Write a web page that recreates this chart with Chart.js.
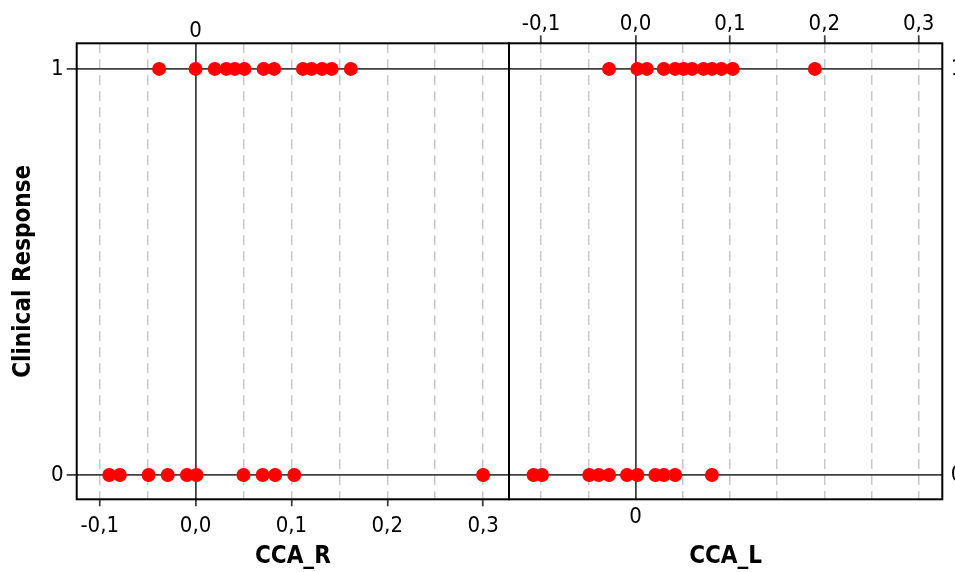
<!DOCTYPE html>
<html><head><meta charset="utf-8">
<script src="https://cdn.jsdelivr.net/npm/chart.js@4.4.0/dist/chart.umd.min.js"></script>
<style>
html,body{margin:0;padding:0;background:#fff;width:955px;height:572px;overflow:hidden;position:relative}
#a{position:absolute;left:0;top:0}
#b{position:absolute;left:500px;top:0}
</style></head><body>
<canvas id="a" width="520" height="572"></canvas>
<canvas id="b" width="455" height="572"></canvas>
<script>
// ---- data ----
const responseTicks = [0, 1];
const responseLabels = ['0', '1'];
const xMajorTicks = [-0.1, 0, 0.1, 0.2, 0.3];
const xMajorLabels = ['-0,1', '0,0', '0,1', '0,2', '0,3'];
const xMinorTicks = [-0.05, 0.05, 0.15, 0.25];
const zeroTick = [0];
const zeroLabel = ['0'];

const ccaR_resp1 = [-0.038, 0.000, 0.020, 0.032, 0.041, 0.051, 0.071, 0.082, 0.112, 0.121, 0.132, 0.142, 0.162];
const ccaR_resp0 = [-0.090, -0.079, -0.049, -0.029, -0.009, 0.001, 0.050, 0.070, 0.083, 0.103, 0.300];
const ccaL_resp1 = [-0.028, 0.002, 0.012, 0.030, 0.042, 0.051, 0.060, 0.072, 0.081, 0.091, 0.103, 0.190];
const ccaL_resp0 = [-0.108, -0.099, -0.049, -0.039, -0.028, -0.009, 0.002, 0.021, 0.030, 0.042, 0.081];

// ---- styling ----
const FONT = "'DejaVu Sans Condensed', 'DejaVu Sans', sans-serif";
const DARK = '#404040';
const LIGHT = '#c8c8c8';
const RED = '#ff0000';
const Y_MIN = -0.06, Y_MAX = 1.063;

const allXTicks = [...xMajorTicks, ...xMinorTicks].sort((a, b) => a - b);
const near = (a, b) => Math.abs(a - b) < 1e-9;
const isZero = c => c.tick && near(c.tick.value, 0);
const isMajor = c => c.tick && xMajorTicks.some(v => near(v, c.tick.value));
const majorLabel = v => { const i = xMajorTicks.findIndex(t => near(t, v)); return i >= 0 ? xMajorLabels[i] : ''; };
const tickFont = { family: FONT, size: 22 };
const titleFont = { family: FONT, size: 24, weight: 'bold' };

const framePlugin = {
  id: 'frame',
  afterDatasetsDraw(chart) {
    const { ctx, chartArea: a } = chart;
    ctx.save();
    ctx.strokeStyle = '#000';
    ctx.lineWidth = 2;
    ctx.strokeRect(a.left, a.top, a.right - a.left, a.bottom - a.top);
    ctx.restore();
  }
};

function pts(xs, y) { return xs.map(x => ({ x, y })); }
function datasets(r1, r0) {
  const base = { pointRadius: 7, pointHoverRadius: 7, pointBackgroundColor: RED, pointBorderWidth: 0, showLine: false };
  return [
    Object.assign({ label: '1', data: pts(r1, 1) }, base),
    Object.assign({ label: '0', data: pts(r0, 0) }, base)
  ];
}

const common = {
  responsive: false,
  animation: false,
  devicePixelRatio: 1,
  plugins: { legend: { display: false }, tooltip: { enabled: false } },
  events: []
};

const dashedGrid = (tickLen) => ({
  color: c => isZero(c) ? DARK : LIGHT,
  lineWidth: c => isZero(c) ? 1.8 : 1.5,
  tickLength: tickLen, tickWidth: 1.8,
  tickColor: c => isMajor(c) ? DARK : 'transparent'
});
const dashedBorder = { display: false, dash: c => isZero(c) ? [] : [10, 6] };

// ---- left panel: CCA_R ----
const RL = { min: -0.124, max: 0.327 };
new Chart(document.getElementById('a'), {
  type: 'scatter',
  data: { datasets: datasets(ccaR_resp1, ccaR_resp0) },
  plugins: [framePlugin],
  options: Object.assign({}, common, {
    layout: { padding: { left: 0, right: 11, top: 0, bottom: 0 } },
    scales: {
      x: {
        type: 'linear', position: 'bottom', min: RL.min, max: RL.max,
        afterBuildTicks: s => { s.ticks = allXTicks.map(v => ({ value: v })); },
        afterFit: s => { s.height = 72.7; },
        ticks: { autoSkip: false, maxRotation: 0, padding: 6.5, color: '#000', font: tickFont, callback: v => majorLabel(v) },
        grid: dashedGrid(7),
        border: dashedBorder,
        title: { display: true, text: 'CCA_R', color: '#000', font: titleFont, padding: { top: 0, bottom: 1 } }
      },
      x2: {
        type: 'linear', position: 'top', min: RL.min, max: RL.max,
        afterBuildTicks: s => { s.ticks = zeroTick.map(v => ({ value: v })); },
        afterFit: s => { s.height = 43.3; },
        ticks: { autoSkip: false, maxRotation: 0, padding: -1.4, color: '#000', font: tickFont, callback: (v) => zeroLabel[zeroTick.indexOf(v)] },
        grid: { display: false, drawTicks: false },
        border: { display: false }
      },
      y: {
        type: 'linear', position: 'left', min: Y_MIN, max: Y_MAX,
        afterBuildTicks: s => { s.ticks = responseTicks.map(v => ({ value: v })); },
        afterFit: s => { s.width = 76.7; },
        ticks: { padding: 3, color: '#000', font: tickFont, callback: v => responseLabels[responseTicks.indexOf(v)] },
        grid: { color: DARK, lineWidth: 1.8, tickLength: 10, tickColor: DARK, tickWidth: 1.8 },
        border: { display: false },
        title: { display: true, text: 'Clinical Response', color: '#000', font: titleFont, padding: { top: 9.6, bottom: 0 } }
      }
    }
  })
});

// ---- right panel: CCA_L ----
const RR = { min: -0.134, max: 0.325 };
new Chart(document.getElementById('b'), {
  type: 'scatter',
  data: { datasets: datasets(ccaL_resp1, ccaL_resp0) },
  plugins: [framePlugin],
  options: Object.assign({}, common, {
    layout: { padding: { left: 9, right: 0, top: 0, bottom: 0 } },
    scales: {
      x: {
        type: 'linear', position: 'bottom', min: RR.min, max: RR.max,
        afterBuildTicks: s => { s.ticks = zeroTick.map(v => ({ value: v })); },
        afterFit: s => { s.height = 72.7; },
        ticks: { autoSkip: false, maxRotation: 0, padding: 5.2, color: '#000', font: tickFont, callback: (v) => zeroLabel[zeroTick.indexOf(v)] },
        grid: { display: true, drawOnChartArea: false, drawTicks: false },
        border: { display: false },
        title: { display: true, text: 'CCA_L', color: '#000', font: titleFont, padding: { top: 0, bottom: 1 } }
      },
      x2: {
        type: 'linear', position: 'top', min: RR.min, max: RR.max,
        afterBuildTicks: s => { s.ticks = allXTicks.map(v => ({ value: v })); },
        afterFit: s => { s.height = 43.3; },
        ticks: { autoSkip: false, maxRotation: 0, padding: -2, color: '#000', font: tickFont, callback: v => majorLabel(v) },
        grid: dashedGrid(8),
        border: dashedBorder
      },
      y: {
        type: 'linear', position: 'right', min: Y_MIN, max: Y_MAX,
        afterBuildTicks: s => { s.ticks = responseTicks.map(v => ({ value: v })); },
        afterFit: s => { s.width = 12.7; },
        ticks: { padding: 8.5, color: '#000', font: tickFont, callback: v => responseLabels[responseTicks.indexOf(v)] },
        grid: { color: DARK, lineWidth: 1.8, drawTicks: false },
        border: { display: false }
      }
    }
  })
});
</script>
</body></html>
